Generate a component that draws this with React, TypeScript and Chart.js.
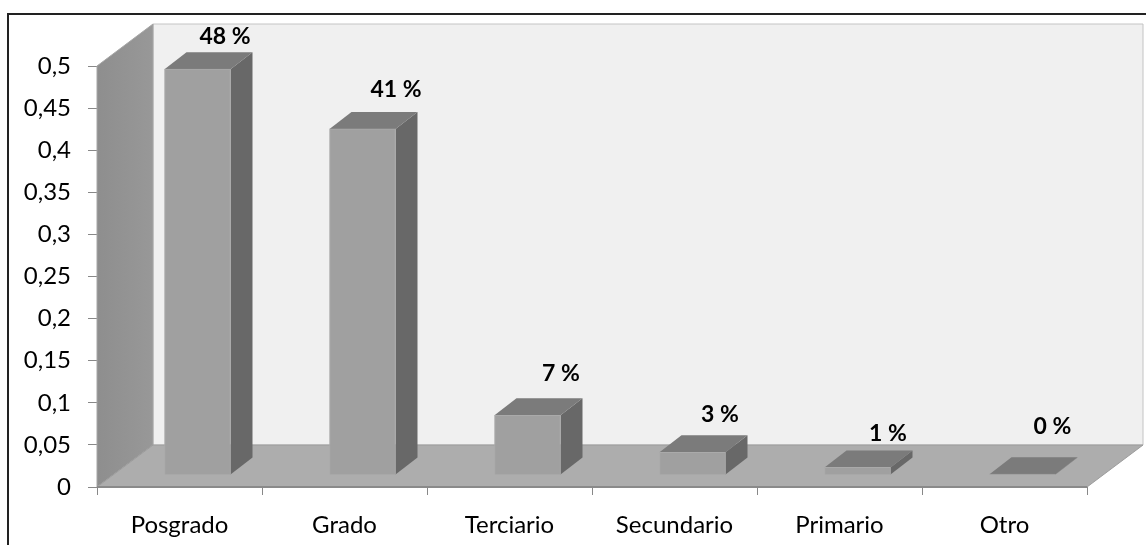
import React, { useEffect, useRef } from "react";
import { Chart, registerables } from "chart.js";

Chart.register(...registerables);

const categories = ["Posgrado", "Grado", "Terciario", "Secundario", "Primario", "Otro"];
const values = [0.482, 0.411, 0.071, 0.027, 0.009, 0.001];
const percentLabels = ["48 %", "41 %", "7 %", "3 %", "1 %", "0 %"];
const labelShifts = [[5.5, -15.5], [11.5, -22.5], [11.5, -24.5], [5.5, -20.5], [8.5, -16.5], [8, -30.5]];

const DX = 56;
const DY = 42;
const BAR_DX = 22;
const BAR_DY = 17;
const OFF_X = 18;
const OFF_Y = 12;
const FONT = "Lato, Carlito, Calibri, sans-serif";

function poly(ctx: CanvasRenderingContext2D, pts: number[][], fill: string | CanvasGradient, stroke?: string) {
  ctx.beginPath();
  pts.forEach(([x, y], i) => (i ? ctx.lineTo(x, y) : ctx.moveTo(x, y)));
  ctx.closePath();
  ctx.fillStyle = fill;
  ctx.fill();
  if (stroke) {
    ctx.strokeStyle = stroke;
    ctx.lineWidth = 1;
    ctx.stroke();
  }
}

const scene3d = {
  id: "scene3d",
  beforeDraw(chart: any) {
    const { ctx, width, height } = chart;
    ctx.save();
    ctx.fillStyle = "#ffffff";
    ctx.fillRect(0, 0, width, height);
    ctx.strokeStyle = "#222222";
    ctx.lineWidth = 2;
    ctx.strokeRect(8, 14, width + 20, height + 20);
    ctx.restore();
  },
  beforeDatasetsDraw(chart: any) {
    const { ctx, chartArea: a } = chart;
    const { left: l, right: r, top: t, bottom: b } = a;
    ctx.save();
    poly(ctx, [[l + DX, t - DY], [r + DX, t - DY], [r + DX, b - DY], [l + DX, b - DY]], "#f0f0f0", "#c4c4c4");
    const wall = ctx.createLinearGradient(l, 0, l + DX, 0);
    wall.addColorStop(0, "#8e8e8e");
    wall.addColorStop(1, "#989898");
    poly(ctx, [[l, t], [l + DX, t - DY], [l + DX, b - DY], [l, b]], wall, "#a6a6a6");
    poly(ctx, [[l, b], [l + DX, b - DY], [r + DX, b - DY], [r, b]], "#adadad", "#9c9c9c");
    ctx.strokeStyle = "#8a8a8a";
    ctx.lineWidth = 2;
    ctx.beginPath();
    ctx.moveTo(l, b);
    ctx.lineTo(r, b);
    ctx.stroke();
    const bars = chart.getDatasetMeta(0).data;
    bars.forEach((bar: any) => {
      const p = bar.getProps(["x", "y", "base", "width"], true);
      const x0 = p.x - p.width / 2 + OFF_X;
      const x1 = p.x + p.width / 2 + OFF_X;
      const yt = p.y - OFF_Y;
      const yb = p.base - OFF_Y;
      poly(ctx, [[x1, yt], [x1 + BAR_DX, yt - BAR_DY], [x1 + BAR_DX, yb - BAR_DY], [x1, yb]], "#686868");
      poly(ctx, [[x0, yt], [x0 + BAR_DX, yt - BAR_DY], [x1 + BAR_DX, yt - BAR_DY], [x1, yt]], "#7b7b7b");
    });
    ctx.restore();
  },
  beforeDatasetDraw(chart: any) {
    chart.ctx.save();
    chart.ctx.translate(OFF_X, -OFF_Y);
  },
  afterDatasetDraw(chart: any) {
    chart.ctx.restore();
  },
  afterDatasetsDraw(chart: any) {
    const { ctx } = chart;
    const bars = chart.getDatasetMeta(0).data;
    ctx.save();
    ctx.font = `bold 23px ${FONT}`;
    ctx.fillStyle = "#000000";
    ctx.textAlign = "center";
    ctx.textBaseline = "middle";
    bars.forEach((bar: any, i: number) => {
      const p = bar.getProps(["x", "y"], true);
      const [sx, sy] = labelShifts[i];
      ctx.fillText(percentLabels[i], p.x + OFF_X + BAR_DX + sx, p.y - OFF_Y - BAR_DY + sy);
    });
    ctx.restore();
  },
};

export default function App() {
  const ref = useRef<HTMLCanvasElement>(null);
  useEffect(() => {
    document.body.style.margin = "0";
    const chart = new Chart(ref.current!, {
      type: "bar",
      data: {
        labels: categories,
        datasets: [
          {
            data: values,
            backgroundColor: "#a0a0a0",
            borderColor: "#aaaaaa",
            borderWidth: 1,
            barThickness: 66,
            clip: false as any,
          },
        ],
      },
      options: {
        animation: false,
        responsive: false,
        devicePixelRatio: 1,
        layout: { padding: { top: 66, right: 59, bottom: 0, left: 0 } },
        plugins: { legend: { display: false }, tooltip: { enabled: false } },
        scales: {
          x: {
            afterFit: (s: any) => { s.height = 58; },
            grid: { drawOnChartArea: false, color: "#888888", tickLength: 8, tickWidth: 1 },
            border: { display: false },
            ticks: { color: "#000000", font: { family: FONT, size: 24 }, maxRotation: 0, padding: 16 },
          },
          y: {
            min: 0,
            max: 0.5,
            afterFit: (s: any) => { s.width = 97; },
            grid: { drawOnChartArea: false, color: "#888888", tickLength: 9, tickWidth: 1 },
            border: { display: false },
            ticks: {
              stepSize: 0.05,
              color: "#000000",
              font: { family: FONT, size: 24 },
              padding: 17,
              callback: (v: any) => String(Math.round(Number(v) * 100) / 100).replace(".", ","),
            },
          },
        },
      },
      plugins: [scene3d],
    } as any);
    return () => chart.destroy();
  }, []);
  return <canvas ref={ref} width={1146} height={545} style={{ display: "block" }} />;
}
